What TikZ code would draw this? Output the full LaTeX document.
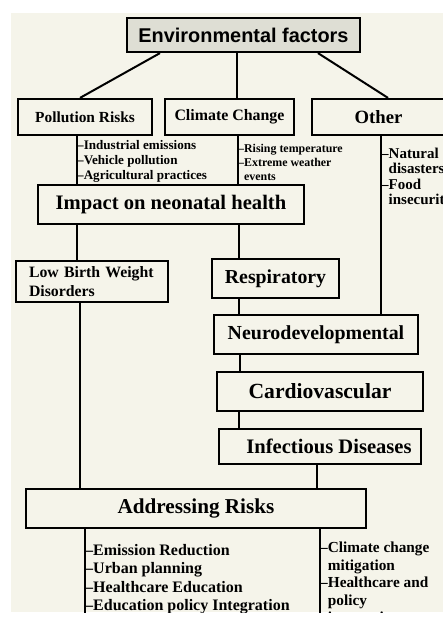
\documentclass[tikz,border=0pt]{standalone}
\usepackage{fontspec}
\setmainfont{Liberation Serif}
\newfontfamily\headfont{Liberation Sans}
\usetikzlibrary{
    calc,
    positioning,
}
\definecolor{paper}{RGB}{245,244,234}
\definecolor{headgray}{RGB}{222,222,212}
\tikzstyle{box}=[draw,rectangle,line width=2.2pt,fill=paper,inner sep=0pt,font=\bfseries\fontsize{20}{22}\selectfont]
\tikzstyle{link}=[line width=2pt]
\tikzstyle{items}=[anchor=north west,inner sep=0pt,align=left]
\newcommand{\Sub}{\phantom{\textendash}}

\begin{document}
\begin{tikzpicture}[x=1pt,y=-1pt]
    \useasboundingbox (0,0) rectangle (443,621);
    \clip (11,13) rectangle (443,612);
    \fill[paper] (11,13) rectangle (443,612);

    % Factors
    \node[box,fill=headgray,minimum width=233pt,minimum height=34pt,font=\headfont\bfseries\fontsize{19.9}{22}\selectfont] (factors) at (243.5,35) {Environmental factors};
    \node[box,minimum width=134pt,minimum height=36pt,font=\bfseries\fontsize{15.4}{18}\selectfont] (pollution) at (85,117) {Pollution Risks};
    \node[box,minimum width=129pt,minimum height=36pt,font=\bfseries\fontsize{15.9}{18}\selectfont] (climate) at (229.5,117) {Climate Change};
    \node[box,minimum width=133pt,minimum height=36pt,font=\bfseries\fontsize{18.7}{20}\selectfont] (other) at (378.5,117) {Other};

    \draw[link] ([xshift=-83.5pt]factors.south) -- ([xshift=-5pt]pollution.north);
    \draw[link] ([xshift=-6.5pt]factors.south) -- ([xshift=7.5pt]climate.north);
    \draw[link] ([xshift=74.5pt]factors.south) -- ([xshift=9.5pt]other.north);

    % Health
    \node[box,minimum width=266pt,minimum height=39pt,font=\bfseries\fontsize{20.6}{22}\selectfont] (impact) at (171,204.5) {Impact on neonatal health};
    \node[box,minimum width=152pt,minimum height=41pt,text width=126pt,inner xsep=13pt,align=left,font=\bfseries\fontsize{15.8}{19}\selectfont] (lbw) at (92,281.5) {Low Birth Weight\\Disorders};
    \node[box,minimum width=127pt,minimum height=39pt,font=\bfseries\fontsize{19.8}{22}\selectfont] (respiratory) at (275.5,278.5) {Respiratory};
    \node[box,minimum width=204pt,minimum height=39pt,font=\bfseries\fontsize{19.9}{22}\selectfont] (neuro) at (316,334.5) {Neurodevelopmental};
    \node[box,minimum width=206pt,minimum height=39pt,font=\bfseries\fontsize{21.6}{22}\selectfont] (cardio) at (320,391.5) {Cardiovascular};
    \node[box,minimum width=202pt,minimum height=35pt,font=\bfseries\fontsize{20.6}{22}\selectfont] (infectious) at (320,446.5) {\hspace*{18pt}Infectious Diseases};
    \node[box,minimum width=340pt,minimum height=39pt,font=\bfseries\fontsize{21.2}{22}\selectfont] (addressing) at (196,508.5) {Addressing Risks};

    \draw[link] ([xshift=-8pt]pollution.south) -- ([xshift=-8pt]pollution.south |- impact.north);
    \draw[link] ([xshift=8.5pt]climate.south) -- ([xshift=8.5pt]climate.south |- impact.north);
    \draw[link] ([xshift=2.5pt]other.south) -- ([xshift=2.5pt]other.south |- neuro.north);
    \draw[link] ([xshift=-94pt]impact.south) -- ([xshift=-94pt]impact.south |- lbw.north);
    \draw[link] ([xshift=68pt]impact.south) -- ([xshift=68pt]impact.south |- respiratory.north);
    \draw[link] ([xshift=-12pt]lbw.south) -- ([xshift=-12pt]lbw.south |- addressing.north);
    \draw[link] ([xshift=-36.5pt]respiratory.south) -- ([xshift=-36.5pt]respiratory.south |- neuro.north);
    \draw[link] ([xshift=-76pt]neuro.south) -- ([xshift=-76pt]neuro.south |- cardio.north);
    \draw[link] ([xshift=-81pt]cardio.south) -- ([xshift=-81pt]cardio.south |- infectious.north);
    \draw[link] ([xshift=-3pt]infectious.south) -- ([xshift=-3pt]infectious.south |- addressing.north);

    \coordinate (endA) at (85,621);
    \coordinate (endB) at (320,621);
    \draw[link] ([xshift=-111pt]addressing.south) -- (endA);
    \draw[link] ([xshift=124pt]addressing.south) -- (endB);

    % Lists
    \node[items,font=\bfseries\fontsize{13.1}{15}\selectfont] (pollution list) at (77,140.5)
        {\textendash Industrial emissions\\\textendash Vehicle pollution\\\textendash Agricultural practices};
    \node[items,font=\bfseries\fontsize{11.9}{14}\selectfont] (climate list) at (238,144)
        {\textendash Rising temperature\\\textendash Extreme weather\\\Sub events};
    \node[items,font=\bfseries\fontsize{15}{15.5}\selectfont] (other list) at (381,147.5)
        {\textendash Natural\\\Sub disasters\\\textendash Food\\\Sub insecurity};
    \node[items,font=\bfseries\fontsize{16}{18.5}\selectfont] (risk list) at (85,544)
        {\textendash Emission Reduction\\\textendash Urban planning\\\textendash Healthcare Education\\\textendash Education policy Integration};
    \node[items,font=\bfseries\fontsize{15.3}{17.5}\selectfont] (policy list) at (320,542)
        {\textendash Climate change\\\Sub mitigation\\\textendash Healthcare and\\\Sub policy\\\Sub integration};
\end{tikzpicture}
\end{document}
